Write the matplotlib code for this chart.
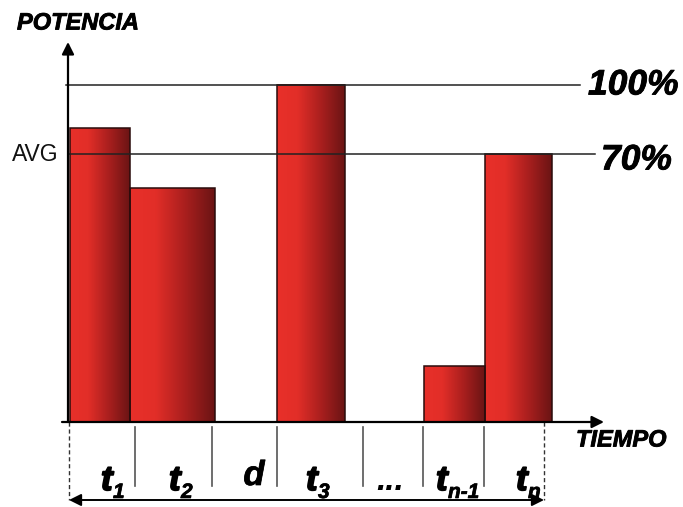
import matplotlib
matplotlib.use("Agg")
import matplotlib.pyplot as plt
import matplotlib.patheffects as pe
import numpy as np
from matplotlib.colors import LinearSegmentedColormap

# ---- data (schematic) ----
segment_labels = ["t", "t", "d", "t", "...", "t", "t"]
segment_subs = ["1", "2", "", "3", "", "n-1", "n"]
bar_left = [70, 130, 277, 424, 485]          # start times of bars
bar_right = [130, 215, 345, 485, 552]        # end times of bars
bar_power = [87.2, 69.4, 100.0, 16.6, 79.5]  # power (% of full-scale)
line_levels = [100.0, 79.5]
line_labels = ["100%", "70%"]
tick_times = [135, 212, 277, 363, 423, 484]
span_times = [69, 544]

W, H = 683, 507
fig = plt.figure(figsize=(W / 100, H / 100), dpi=100)
ax = fig.add_axes([0, 0, 1, 1])
ax.set_axis_off()

Y0, SCALE = 422, 3.37          # pixel row of zero power, px per % unit
def py(ypx):
    return (Y0 - ypx) / SCALE

cmap = LinearSegmentedColormap.from_list(
    "bar", [(0.0, "#e8302a"), (0.3, "#e22e28"), (0.65, "#a91f1e"), (1.0, "#6a1414")])
grad = np.linspace(0, 1, 256).reshape(1, -1)

widths = [r - l for l, r in zip(bar_left, bar_right)]
bars = ax.bar(bar_left, bar_power, width=widths, align="edge",
              facecolor="none", edgecolor="#2a0c0c", linewidth=1.1, zorder=3)
for p in bars.patches:
    x0, y0 = p.get_x(), p.get_y()
    ax.imshow(grad, cmap=cmap, aspect="auto", zorder=2,
              extent=[x0, x0 + p.get_width(), y0, y0 + p.get_height()])

# horizontal reference lines
ax.plot([66, 580], [line_levels[0]] * 2, color="#222222", lw=1.1, zorder=4)
ax.plot([68, 595], [line_levels[1]] * 2, color="#222222", lw=1.1, zorder=4)

bi = dict(family="Liberation Sans", weight="bold", style="italic", color="black")
heavy = [pe.withStroke(linewidth=0.6, foreground="black")]
ax.text(588, line_levels[0], line_labels[0], fontsize=25.5, va="center", ha="left",
        path_effects=heavy, **bi)
ax.text(601, py(160), line_labels[1], fontsize=25.5, va="center", ha="left",
        path_effects=heavy, **bi)
ax.text(12, line_levels[1], "AVG", fontsize=16.5, va="center", ha="left",
        family="Liberation Sans", color="#111111")

# axes with arrows
arrow_kw = dict(arrowstyle="-|>", color="black", lw=1.6, mutation_scale=18,
                shrinkA=0, shrinkB=0)
ax.annotate("", xy=(68, py(42)), xytext=(68, 0), arrowprops=arrow_kw, zorder=5)
ax.annotate("", xy=(604, 0), xytext=(62, 0), arrowprops=arrow_kw, zorder=5)
ax.text(17, py(23), "POTENCIA", fontsize=17, va="center", ha="left",
        path_effects=heavy, **bi)
ax.text(576, py(440), "TIEMPO", fontsize=17, va="center", ha="left",
        path_effects=heavy, **bi)

# segment separators
for t in tick_times:
    ax.plot([t, t], [py(427), py(486)], color="#555555", lw=1.2, zorder=1)
for t in span_times:
    ax.plot([t, t], [0, py(500)], color="#333333", lw=1.0, ls=(0, (3, 2)), zorder=1)
ax.annotate("", xy=(span_times[0], py(500)), xytext=(span_times[1], py(500)),
            arrowprops=dict(arrowstyle="<|-|>", color="black", lw=1.4,
                            mutation_scale=18, shrinkA=0, shrinkB=0))

# segment labels
label_x = [101, 169, 254, 306, 390, 436, 516]
big = [pe.withStroke(linewidth=1.3, foreground="black")]
small = [pe.withStroke(linewidth=0.5, foreground="black")]
for x, lab, sub in zip(label_x, segment_labels, segment_subs):
    if lab == "...":
        ax.text(x, py(490), lab, fontsize=24, va="baseline", ha="center", **bi)
        continue
    if lab == "d":
        ax.text(x, py(485), lab, fontsize=25, va="baseline", ha="center",
                path_effects=small, **bi)
        continue
    ax.text(x, py(490), lab, fontsize=25, va="baseline", ha="left",
            path_effects=big, **bi)
    ax.text(x + 12, py(498), sub, fontsize=15, va="baseline", ha="left",
            path_effects=small, **bi)

ax.set_xlim(0, W)
ax.set_ylim(py(H), py(0))
fig.savefig("out.png", dpi=100, facecolor="white")
